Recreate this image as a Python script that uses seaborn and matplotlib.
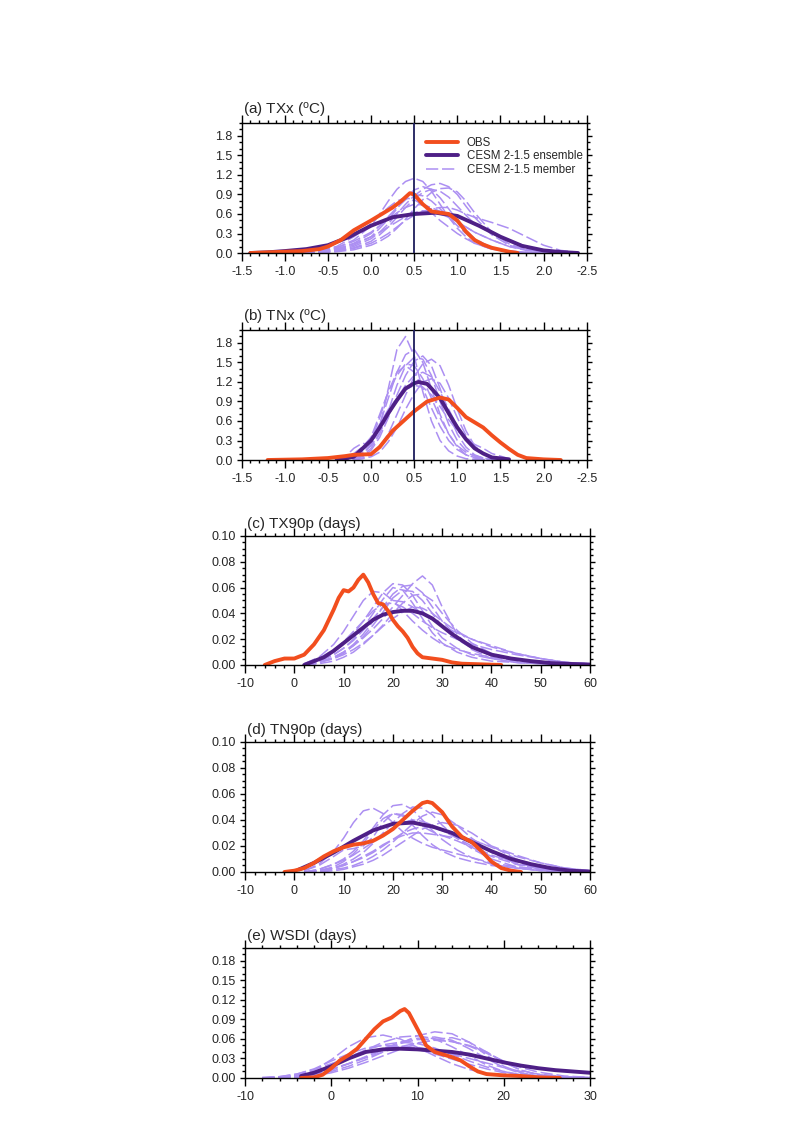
import numpy as np
import matplotlib
matplotlib.use("Agg")
import matplotlib.pyplot as plt
import seaborn as sns
from matplotlib.ticker import MultipleLocator

# data --------------------------------------------------------------------------

titles = ["(a) TXx ($^{o}$C)", "(b) TNx ($^{o}$C)", "(c) TX90p (days)",
          "(d) TN90p (days)", "(e) WSDI (days)"]

temp_ticks = [-1.5, -1.0, -0.5, 0.0, 0.5, 1.0, 1.5, 2.0, 2.5]
temp_ticklabels = ["-1.5", "-1.0", "-0.5", "0.0", "0.5", "1.0", "1.5", "2.0", "-2.5"]

# (a) TXx
obs_a_x = [-1.4, -1.2, -1.0, -0.8, -0.6, -0.5, -0.35, -0.2, 0.0, 0.1, 0.25, 0.35, 0.45, 0.5, 0.6, 0.7, 0.8,
           0.9, 1.0, 1.1, 1.2, 1.3, 1.4, 1.5, 1.6, 1.7]
obs_a_y = [0.0, 0.01, 0.02, 0.03, 0.06, 0.1, 0.2, 0.35, 0.5, 0.58, 0.7, 0.8, 0.92, 0.9, 0.75, 0.64, 0.62,
           0.6, 0.5, 0.33, 0.2, 0.13, 0.08, 0.05, 0.02, 0.0]
ens_a_x = [-1.4, -1.2, -1.0, -0.75, -0.5, -0.25, 0.0, 0.25, 0.5, 0.75, 1.0, 1.25, 1.5, 1.75, 2.0, 2.2, 2.4]
ens_a_y = [0.0, 0.01, 0.03, 0.06, 0.12, 0.25, 0.42, 0.55, 0.6, 0.62, 0.57, 0.42, 0.25, 0.11, 0.04, 0.015, 0.0]
mem_a_x = [-0.8, -0.6, -0.4, -0.2, 0.0, 0.1, 0.2, 0.3, 0.4, 0.5, 0.6, 0.7, 0.8, 0.9, 1.0, 1.1, 1.2, 1.4,
           1.6, 1.8, 2.0, 2.2, 2.4]
mem_a = [
    [0, 0.02, 0.08, 0.2, 0.42, 0.6, 0.8, 0.98, 1.1, 1.15, 1.1, 0.95, 0.75, 0.55, 0.38, 0.25, 0.15, 0.06, 0.02, 0.01, 0, 0, 0],
    [0, 0.01, 0.04, 0.1, 0.22, 0.32, 0.45, 0.6, 0.75, 0.88, 0.98, 1.05, 1.07, 1.02, 0.9, 0.72, 0.55, 0.28, 0.12, 0.05, 0.02, 0.01, 0],
    [0, 0.02, 0.05, 0.12, 0.25, 0.38, 0.52, 0.68, 0.85, 0.97, 1.02, 0.98, 0.85, 0.68, 0.5, 0.35, 0.22, 0.08, 0.03, 0.01, 0, 0, 0],
    [0, 0.01, 0.03, 0.08, 0.18, 0.28, 0.4, 0.55, 0.7, 0.83, 0.93, 0.98, 0.95, 0.86, 0.72, 0.58, 0.45, 0.3, 0.2, 0.1, 0.04, 0.01, 0],
    [0, 0.02, 0.06, 0.15, 0.3, 0.42, 0.56, 0.7, 0.82, 0.9, 0.88, 0.8, 0.68, 0.55, 0.42, 0.3, 0.2, 0.08, 0.03, 0.01, 0, 0, 0],
    [0.01, 0.03, 0.08, 0.18, 0.32, 0.42, 0.52, 0.62, 0.7, 0.75, 0.74, 0.7, 0.64, 0.56, 0.48, 0.4, 0.32, 0.2, 0.1, 0.04, 0.02, 0.01, 0],
    [0, 0.01, 0.03, 0.07, 0.15, 0.22, 0.3, 0.4, 0.5, 0.58, 0.64, 0.68, 0.7, 0.7, 0.66, 0.6, 0.55, 0.47, 0.38, 0.25, 0.12, 0.04, 0.01],
    [0.01, 0.04, 0.1, 0.25, 0.45, 0.58, 0.7, 0.8, 0.85, 0.82, 0.74, 0.62, 0.5, 0.4, 0.3, 0.22, 0.15, 0.06, 0.02, 0.01, 0, 0, 0],
    [0, 0, 0.02, 0.05, 0.12, 0.18, 0.26, 0.38, 0.52, 0.68, 0.82, 0.93, 0.99, 1.0, 0.94, 0.8, 0.62, 0.32, 0.14, 0.05, 0.02, 0, 0],
    [0, 0.02, 0.06, 0.14, 0.25, 0.32, 0.4, 0.48, 0.56, 0.62, 0.65, 0.64, 0.6, 0.55, 0.48, 0.4, 0.32, 0.2, 0.1, 0.05, 0.02, 0.01, 0],
]

# (b) TNx
obs_b_x = [-1.2, -0.8, -0.5, -0.3, -0.2, 0.0, 0.1, 0.25, 0.4, 0.5, 0.65, 0.8, 0.9, 1.0, 1.1, 1.2, 1.3, 1.4,
           1.5, 1.6, 1.7, 1.8, 2.0, 2.2]
obs_b_y = [0.0, 0.01, 0.03, 0.06, 0.08, 0.09, 0.2, 0.45, 0.63, 0.75, 0.9, 0.96, 0.93, 0.8, 0.66, 0.58, 0.5,
           0.38, 0.27, 0.17, 0.08, 0.03, 0.01, 0.0]
ens_b_x = [-0.4, -0.2, 0.0, 0.1, 0.2, 0.3, 0.4, 0.5, 0.55, 0.65, 0.7, 0.8, 0.9, 1.0, 1.1, 1.2, 1.3, 1.4, 1.6]
ens_b_y = [0.0, 0.05, 0.3, 0.5, 0.72, 0.92, 1.1, 1.18, 1.2, 1.17, 1.1, 0.95, 0.72, 0.5, 0.32, 0.18, 0.1, 0.04, 0.01]
mem_b_x = [-0.4, -0.3, -0.2, -0.1, 0.0, 0.1, 0.2, 0.3, 0.4, 0.5, 0.6, 0.7, 0.8, 0.9, 1.0, 1.1, 1.2, 1.3, 1.4, 1.6]
mem_b = [
    [0, 0.05, 0.18, 0.26, 0.22, 0.5, 1.1, 1.7, 1.9, 1.6, 1.05, 0.6, 0.3, 0.14, 0.06, 0.02, 0.01, 0, 0, 0],
    [0, 0.01, 0.03, 0.08, 0.25, 0.55, 0.95, 1.35, 1.62, 1.7, 1.5, 1.1, 0.7, 0.4, 0.2, 0.08, 0.03, 0.01, 0, 0],
    [0, 0, 0.02, 0.05, 0.15, 0.35, 0.65, 1.0, 1.3, 1.52, 1.6, 1.45, 1.1, 0.72, 0.4, 0.2, 0.08, 0.03, 0.01, 0],
    [0, 0, 0.01, 0.03, 0.08, 0.2, 0.4, 0.7, 1.0, 1.28, 1.48, 1.55, 1.45, 1.15, 0.78, 0.45, 0.22, 0.1, 0.04, 0.01],
    [0, 0.02, 0.06, 0.15, 0.35, 0.7, 1.05, 1.3, 1.48, 1.45, 1.25, 0.95, 0.65, 0.4, 0.22, 0.12, 0.06, 0.03, 0.01, 0],
    [0, 0.01, 0.04, 0.1, 0.22, 0.42, 0.68, 0.95, 1.15, 1.3, 1.35, 1.28, 1.05, 0.78, 0.52, 0.32, 0.18, 0.1, 0.05, 0.01],
    [0, 0.01, 0.03, 0.07, 0.18, 0.4, 0.75, 1.15, 1.45, 1.58, 1.55, 1.3, 0.9, 0.55, 0.3, 0.15, 0.07, 0.03, 0.01, 0],
    [0.01, 0.04, 0.1, 0.2, 0.35, 0.55, 0.78, 0.95, 1.08, 1.15, 1.12, 1.0, 0.82, 0.62, 0.45, 0.32, 0.24, 0.18, 0.1, 0.02],
    [0, 0.02, 0.05, 0.12, 0.3, 0.65, 1.05, 1.35, 1.45, 1.35, 1.1, 0.8, 0.52, 0.3, 0.16, 0.08, 0.04, 0.02, 0.01, 0],
    [0, 0, 0, 0.02, 0.05, 0.12, 0.28, 0.5, 0.78, 1.02, 1.2, 1.25, 1.18, 0.95, 0.65, 0.38, 0.2, 0.1, 0.04, 0.01],
]

# (c) TX90p
obs_c_x = [-6, -4, -2, 0, 2, 4, 6, 8, 9, 10, 11, 12, 13, 14, 15, 16, 17, 18, 19, 20, 21, 22, 23, 24, 25,
           26, 28, 30, 32, 34, 38, 42]
obs_c_y = [0.0, 0.003, 0.005, 0.005, 0.008, 0.016, 0.027, 0.043, 0.052, 0.058, 0.057, 0.06, 0.066, 0.07,
           0.064, 0.055, 0.048, 0.047, 0.042, 0.035, 0.03, 0.026, 0.021, 0.014, 0.009, 0.006, 0.005, 0.004,
           0.002, 0.001, 0.0005, 0.0]
ens_c_x = [2, 4, 6, 8, 10, 12, 14, 16, 18, 20, 22, 24, 26, 28, 30, 32, 34, 36, 38, 40, 44, 48, 52, 56, 60]
ens_c_y = [0.0, 0.003, 0.006, 0.011, 0.017, 0.023, 0.029, 0.035, 0.039, 0.041, 0.042, 0.042, 0.04, 0.036,
           0.03, 0.024, 0.019, 0.014, 0.011, 0.008, 0.005, 0.003, 0.0015, 0.0008, 0.0003]
mem_c_x = [2, 5, 8, 10, 12, 14, 16, 18, 20, 22, 24, 26, 28, 30, 33, 36, 40, 45, 50, 55, 60]
mem_c = [
    [0, 0.002, 0.006, 0.01, 0.015, 0.021, 0.028, 0.036, 0.045, 0.054, 0.063, 0.069, 0.062, 0.045, 0.024, 0.012, 0.005, 0.002, 0.001, 0, 0],
    [0, 0.004, 0.01, 0.016, 0.024, 0.034, 0.045, 0.056, 0.063, 0.062, 0.054, 0.042, 0.03, 0.021, 0.013, 0.008, 0.005, 0.002, 0.001, 0, 0],
    [0.001, 0.006, 0.016, 0.026, 0.038, 0.05, 0.057, 0.056, 0.05, 0.042, 0.034, 0.027, 0.021, 0.016, 0.012, 0.009, 0.006, 0.003, 0.002, 0.001, 0],
    [0, 0.002, 0.006, 0.01, 0.016, 0.024, 0.034, 0.045, 0.055, 0.061, 0.062, 0.056, 0.045, 0.034, 0.022, 0.014, 0.008, 0.004, 0.002, 0.001, 0],
    [0, 0.003, 0.008, 0.013, 0.019, 0.027, 0.036, 0.045, 0.05, 0.049, 0.045, 0.04, 0.035, 0.03, 0.025, 0.02, 0.015, 0.009, 0.005, 0.002, 0.001],
    [0, 0.002, 0.005, 0.009, 0.015, 0.022, 0.031, 0.041, 0.052, 0.058, 0.057, 0.05, 0.04, 0.03, 0.02, 0.013, 0.008, 0.004, 0.002, 0.001, 0],
    [0, 0.001, 0.003, 0.006, 0.01, 0.016, 0.023, 0.031, 0.04, 0.048, 0.054, 0.055, 0.05, 0.04, 0.027, 0.017, 0.009, 0.004, 0.002, 0.001, 0],
    [0.001, 0.005, 0.012, 0.018, 0.026, 0.034, 0.042, 0.047, 0.048, 0.045, 0.04, 0.034, 0.029, 0.025, 0.02, 0.016, 0.012, 0.008, 0.005, 0.002, 0.001],
    [0, 0.003, 0.008, 0.013, 0.02, 0.029, 0.04, 0.051, 0.06, 0.058, 0.048, 0.036, 0.025, 0.017, 0.01, 0.006, 0.003, 0.002, 0.001, 0, 0],
    [0, 0.002, 0.005, 0.008, 0.012, 0.017, 0.023, 0.03, 0.036, 0.041, 0.045, 0.044, 0.04, 0.034, 0.026, 0.02, 0.014, 0.009, 0.005, 0.002, 0.001],
]

# (d) TN90p
obs_d_x = [-2, 0, 2, 4, 6, 8, 10, 12, 14, 16, 18, 20, 22, 24, 26, 27, 28, 30, 32, 34, 36, 38, 40, 42, 44, 46]
obs_d_y = [0.0, 0.001, 0.003, 0.007, 0.012, 0.016, 0.019, 0.021, 0.022, 0.024, 0.028, 0.033, 0.04, 0.047,
           0.053, 0.054, 0.053, 0.046, 0.035, 0.027, 0.023, 0.016, 0.008, 0.003, 0.001, 0.0]
ens_d_x = [1, 4, 8, 12, 16, 20, 24, 28, 32, 36, 40, 44, 48, 52, 56, 60]
ens_d_y = [0.002, 0.007, 0.015, 0.024, 0.032, 0.037, 0.038, 0.035, 0.03, 0.023, 0.016, 0.01, 0.006, 0.003,
           0.001, 0.0003]
mem_d_x = [2, 5, 8, 10, 12, 14, 16, 18, 20, 22, 24, 26, 28, 30, 33, 36, 40, 45, 50, 55, 60]
mem_d = [
    [0.001, 0.006, 0.016, 0.026, 0.038, 0.047, 0.049, 0.045, 0.038, 0.031, 0.026, 0.022, 0.019, 0.017, 0.014, 0.011, 0.007, 0.004, 0.002, 0.001, 0],
    [0, 0.002, 0.006, 0.01, 0.016, 0.024, 0.034, 0.044, 0.051, 0.052, 0.048, 0.04, 0.032, 0.025, 0.017, 0.011, 0.006, 0.003, 0.001, 0, 0],
    [0, 0.001, 0.003, 0.006, 0.01, 0.015, 0.022, 0.03, 0.038, 0.045, 0.05, 0.049, 0.044, 0.036, 0.026, 0.018, 0.01, 0.004, 0.002, 0.001, 0],
    [0.001, 0.005, 0.012, 0.017, 0.018, 0.02, 0.027, 0.038, 0.045, 0.044, 0.04, 0.035, 0.031, 0.028, 0.024, 0.019, 0.012, 0.006, 0.003, 0.001, 0],
    [0, 0.001, 0.003, 0.005, 0.008, 0.011, 0.015, 0.02, 0.025, 0.03, 0.033, 0.035, 0.034, 0.032, 0.029, 0.025, 0.019, 0.012, 0.007, 0.003, 0.001],
    [0, 0.002, 0.006, 0.009, 0.013, 0.018, 0.023, 0.029, 0.034, 0.038, 0.04, 0.039, 0.036, 0.032, 0.026, 0.02, 0.013, 0.007, 0.003, 0.001, 0],
    [0, 0.001, 0.003, 0.005, 0.008, 0.012, 0.016, 0.021, 0.025, 0.028, 0.03, 0.03, 0.029, 0.028, 0.026, 0.024, 0.02, 0.013, 0.007, 0.003, 0.001],
    [0, 0, 0.002, 0.003, 0.005, 0.008, 0.012, 0.017, 0.023, 0.03, 0.037, 0.043, 0.046, 0.044, 0.036, 0.026, 0.015, 0.006, 0.002, 0.001, 0],
    [0, 0.001, 0.004, 0.008, 0.014, 0.022, 0.032, 0.041, 0.045, 0.043, 0.036, 0.028, 0.021, 0.016, 0.011, 0.008, 0.005, 0.003, 0.001, 0, 0],
    [0, 0, 0.001, 0.002, 0.004, 0.006, 0.009, 0.013, 0.018, 0.023, 0.028, 0.033, 0.036, 0.038, 0.036, 0.03, 0.02, 0.01, 0.004, 0.001, 0],
]

# (e) WSDI
obs_e_x = [-3.5, -2, -1, 0, 1, 2, 3, 4, 5, 6, 7, 8, 8.5, 9, 10, 11, 12, 13, 14, 15, 16, 17, 18, 20, 22,
           23, 24, 26.5]
obs_e_y = [0.0, 0.001, 0.005, 0.015, 0.027, 0.035, 0.045, 0.06, 0.075, 0.087, 0.093, 0.103, 0.106, 0.1,
           0.075, 0.05, 0.04, 0.036, 0.032, 0.027, 0.018, 0.01, 0.006, 0.004, 0.003, 0.002, 0.001, 0.0]
ens_e_x = [-3.5, -2, 0, 2, 4, 6, 8, 10, 12, 14, 16, 18, 20, 22, 24, 26, 28, 30]
ens_e_y = [0.003, 0.008, 0.018, 0.03, 0.04, 0.044, 0.045, 0.044, 0.042, 0.04, 0.036, 0.03, 0.024, 0.019,
           0.015, 0.012, 0.01, 0.008]
mem_e_x = [-8, -6, -4, -2, 0, 2, 4, 6, 8, 10, 12, 14, 16, 18, 20, 22, 24, 27, 30]
mem_e = [
    [0, 0.001, 0.004, 0.012, 0.028, 0.048, 0.062, 0.066, 0.06, 0.047, 0.034, 0.022, 0.013, 0.007, 0.004, 0.002, 0.001, 0, 0],
    [0, 0, 0.001, 0.004, 0.01, 0.018, 0.028, 0.04, 0.053, 0.065, 0.071, 0.068, 0.055, 0.035, 0.018, 0.008, 0.003, 0.001, 0],
    [0, 0.001, 0.003, 0.008, 0.018, 0.03, 0.043, 0.055, 0.063, 0.065, 0.06, 0.048, 0.034, 0.02, 0.01, 0.004, 0.002, 0, 0],
    [0, 0, 0.002, 0.005, 0.012, 0.022, 0.033, 0.045, 0.055, 0.061, 0.063, 0.058, 0.045, 0.03, 0.016, 0.007, 0.003, 0.001, 0],
    [0, 0.001, 0.004, 0.01, 0.02, 0.032, 0.043, 0.051, 0.055, 0.053, 0.046, 0.036, 0.026, 0.017, 0.01, 0.005, 0.002, 0.001, 0],
    [0, 0, 0.002, 0.006, 0.013, 0.022, 0.032, 0.043, 0.053, 0.059, 0.06, 0.056, 0.05, 0.04, 0.025, 0.012, 0.005, 0.001, 0],
    [0.001, 0.002, 0.006, 0.013, 0.022, 0.031, 0.039, 0.045, 0.048, 0.047, 0.043, 0.037, 0.03, 0.023, 0.016, 0.01, 0.006, 0.002, 0.001],
    [0, 0, 0.001, 0.003, 0.008, 0.015, 0.024, 0.034, 0.044, 0.053, 0.059, 0.062, 0.055, 0.04, 0.024, 0.012, 0.005, 0.001, 0],
    [0, 0.002, 0.006, 0.014, 0.026, 0.037, 0.046, 0.05, 0.049, 0.044, 0.037, 0.029, 0.021, 0.014, 0.008, 0.004, 0.002, 0, 0],
    [0, 0.001, 0.003, 0.007, 0.014, 0.022, 0.031, 0.04, 0.048, 0.054, 0.058, 0.056, 0.049, 0.038, 0.026, 0.016, 0.009, 0.003, 0.001],
]

# figure setup -------------------------------------------------------------------

sns.set_style("ticks")
plt.rcParams['font.family'] = ['Liberation Sans', 'DejaVu Sans']
plt.rcParams['mathtext.fontset'] = 'custom'
plt.rcParams['mathtext.rm'] = 'Liberation Sans'
plt.rcParams['mathtext.it'] = 'Liberation Sans'
plt.rcParams['axes.unicode_minus'] = False

c_obs = '#F24E1E'
c_ens = '#4E1F86'
c_mem = '#AC8FF2'
c_vline = '#1C1C5C'

fig = plt.figure(figsize=(7.94, 11.25), dpi=100)

# [left, bottom, width, height] in figure fraction
boxes = [
    [0.3044, 0.7751, 0.4345, 0.1156],
    [0.3044, 0.5911, 0.4345, 0.1156],
    [0.3086, 0.4089, 0.4345, 0.1147],
    [0.3086, 0.2249, 0.4345, 0.1156],
    [0.3086, 0.0418, 0.4345, 0.1156],
]

panels = [
    (obs_a_x, obs_a_y, ens_a_x, ens_a_y, mem_a_x, mem_a),
    (obs_b_x, obs_b_y, ens_b_x, ens_b_y, mem_b_x, mem_b),
    (obs_c_x, obs_c_y, ens_c_x, ens_c_y, mem_c_x, mem_c),
    (obs_d_x, obs_d_y, ens_d_x, ens_d_y, mem_d_x, mem_d),
    (obs_e_x, obs_e_y, ens_e_x, ens_e_y, mem_e_x, mem_e),
]

# xlim, ylim, x major, x minor, y major, y minor, y format
axis_cfg = [
    ((-1.5, 2.5), (0, 2.0), 0.5, 0.1, 0.3, 0.1, "%.1f"),
    ((-1.5, 2.5), (0, 2.0), 0.5, 0.1, 0.3, 0.1, "%.1f"),
    ((-10, 60), (0, 0.10), 10, 2, 0.02, 0.005, "%.2f"),
    ((-10, 60), (0, 0.10), 10, 2, 0.02, 0.005, "%.2f"),
    ((-10, 30), (0, 0.20), 10, 2, 0.03, 0.01, "%.2f"),
]

for i, (box, pdata, cfg) in enumerate(zip(boxes, panels, axis_cfg)):
    ax = fig.add_axes(box)
    ox, oy, ex, ey, mx, mems = pdata
    xlim, ylim, xmaj, xmin_, ymaj, ymin_, yfmt = cfg

    for k, m in enumerate(mems):
        sns.lineplot(x=mx, y=m, ax=ax, color=c_mem, lw=1.1, sort=False,
                     linestyle=(0, (8, 2.5)), label="CESM 2-1.5 member" if k == 0 else None)
    sns.lineplot(x=ex, y=ey, ax=ax, color=c_ens, lw=2.8, sort=False, label="CESM 2-1.5 ensemble")
    sns.lineplot(x=ox, y=oy, ax=ax, color=c_obs, lw=2.8, sort=False, label="OBS")

    if i < 2:
        ax.axvline(0.5, color=c_vline, lw=1.3, zorder=5)

    ax.set_xlim(*xlim)
    if i < 2:
        ax.set_xticks(temp_ticks)
        ax.set_xticklabels(temp_ticklabels)
    else:
        ax.xaxis.set_major_locator(MultipleLocator(xmaj))
    ax.xaxis.set_minor_locator(MultipleLocator(xmin_))
    ax.yaxis.set_major_locator(MultipleLocator(ymaj))
    ax.yaxis.set_minor_locator(MultipleLocator(ymin_))
    ax.yaxis.set_major_formatter(matplotlib.ticker.FormatStrFormatter(yfmt))
    ax.set_ylim(*ylim)

    ax.tick_params(axis='both', which='both', direction='out', top=True, right=True,
                   labeltop=False, labelright=False, color='black', width=1.0)
    ax.tick_params(axis='x', which='major', length=5.5, labelsize=9, pad=4)
    ax.tick_params(axis='x', which='minor', length=2.5)
    ax.tick_params(axis='y', which='major', length=3.5, labelsize=9, pad=3)
    ax.tick_params(axis='y', which='minor', length=2.2)
    for sp in ax.spines.values():
        sp.set_visible(True)
        sp.set_linewidth(1.0)
        sp.set_color('black')
    ax.set_xlabel("")
    ax.set_ylabel("")
    ax.set_title(titles[i], loc='left', fontsize=11, pad=6, x=0.005)

    if i == 0:
        h, l = ax.get_legend_handles_labels()
        order = [l.index("OBS"), l.index("CESM 2-1.5 ensemble"), l.index("CESM 2-1.5 member")]
        ax.legend([h[j] for j in order], [l[j] for j in order], loc='upper left',
                  bbox_to_anchor=(0.534, 0.89), frameon=False, fontsize=8.3,
                  handlelength=2.8, handletextpad=0.75, labelspacing=0.1, borderaxespad=0,
                  borderpad=0)
    else:
        ax.get_legend().remove()

fig.savefig("out.png", dpi=100)
